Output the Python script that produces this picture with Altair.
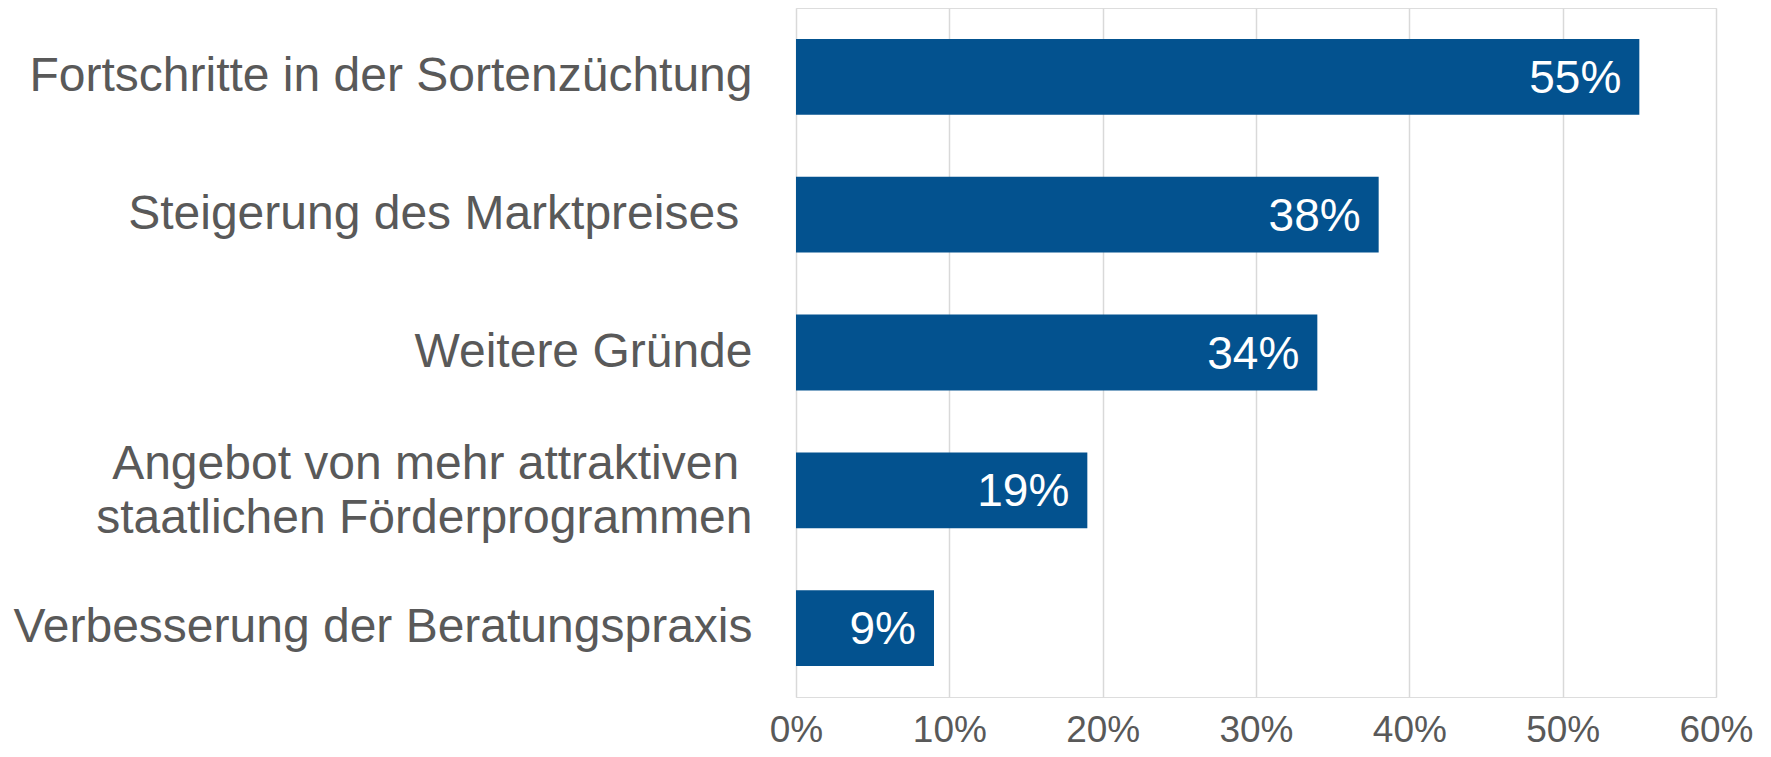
import altair as alt
import pandas as pd

categories = [
    "Fortschritte in der Sortenzüchtung",
    "Steigerung des Marktpreises\u00a0\u200b",
    "Weitere Gründe",
    "Angebot von mehr attraktiven\u00a0\u200b|staatlichen Förderprogrammen",
    "Verbesserung der Beratungspraxis",
]
values = [0.55, 0.38, 0.34, 0.19, 0.09]
ticks = [0, 0.1, 0.2, 0.3, 0.4, 0.5, 0.6]

df = pd.DataFrame({"cat": categories, "val": values})

GRAY = "#595959"
BLUE = "#03528F"
FONT = "Liberation Sans, Arial, sans-serif"

base = alt.Chart(df).encode(
    y=alt.Y(
        "cat:N",
        sort=None,
        title=None,
        scale=alt.Scale(paddingInner=0.45, paddingOuter=0.225),
        axis=alt.Axis(
            domain=False,
            ticks=False,
            grid=False,
            labelFontSize=48,
            labelFont=FONT,
            labelColor=GRAY,
            labelPadding=44,
            labelLimit=0,
            labelLineHeight=54,
            labelExpr="split(datum.label, '|')",
            labelOffset={
                "condition": {"test": "indexof(datum.value, '|') >= 0", "value": -25},
                "value": 0,
            },
        ),
    ),
)

bars = base.mark_bar(color=BLUE).encode(
    x=alt.X(
        "val:Q",
        title=None,
        scale=alt.Scale(domain=[0, 0.6], nice=False),
        axis=alt.Axis(
            values=ticks,
            format=".0%",
            domain=False,
            ticks=False,
            grid=True,
            gridColor="#D9D9D9",
            gridWidth=1.5,
            labelFontSize=37,
            labelFont=FONT,
            labelColor=GRAY,
            labelPadding=15,
            labelFlush=False,
        ),
    )
)

labels = base.mark_text(
    align="right",
    baseline="middle",
    dx=-18,
    dy=2,
    color="white",
    fontSize=46,
    font=FONT,
).encode(
    x=alt.X("val:Q"),
    text=alt.Text("val:Q", format=".0%"),
)

chart = (
    alt.layer(bars, labels)
    .properties(
        width=920,
        height=689,
        autosize=alt.AutoSizeParams(type="none"),
        padding={"left": 788, "top": 0, "right": 45, "bottom": 52},
    )
    .configure_view(stroke=None)
    .configure(background="white")
)

chart.save("out.html", embed_options={"renderer": "svg", "actions": False})
